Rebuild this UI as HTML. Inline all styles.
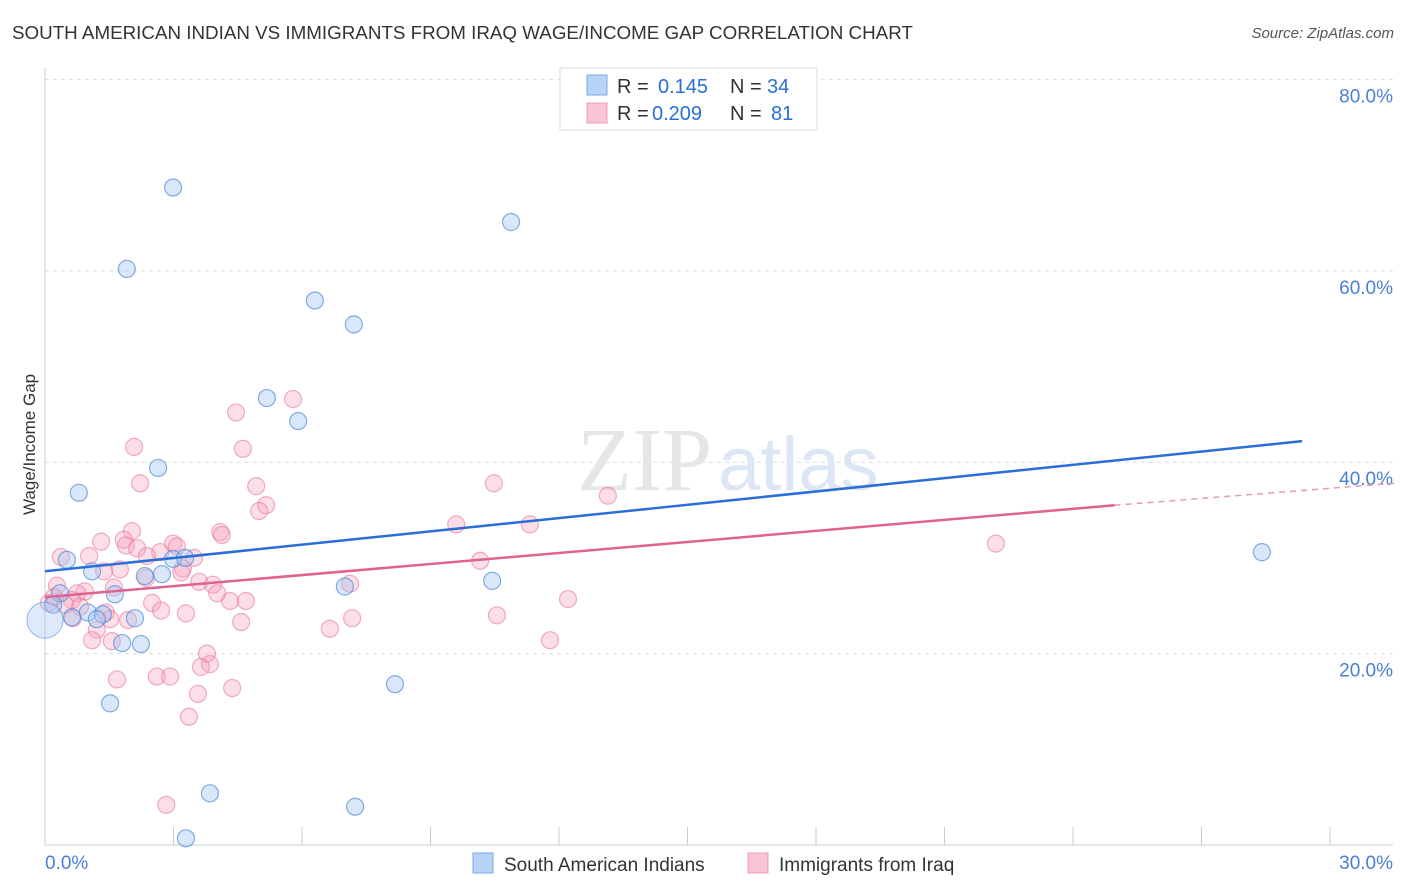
<!DOCTYPE html>
<html><head><meta charset="utf-8">
<style>
body{margin:0;background:#fff;font-family:"Liberation Sans",sans-serif;}
#wrap{position:relative;width:1406px;height:892px;overflow:hidden;}
.t{position:absolute;white-space:nowrap;}
</style></head>
<body>
<div id="wrap">
<div class="t" style="left:12px;top:22px;font-size:18.8px;color:#333;">SOUTH AMERICAN INDIAN VS IMMIGRANTS FROM IRAQ WAGE/INCOME GAP CORRELATION CHART</div>
<div class="t" style="right:12px;top:25px;font-size:15px;color:#555;font-style:italic;">Source: ZipAtlas.com</div>
<div class="t" style="left:-30px;top:445px;font-size:17px;color:#333;transform:rotate(-90deg);transform-origin:center;width:120px;text-align:center;">Wage/Income Gap</div>
<svg id="svg" width="1406" height="892" style="position:absolute;left:0;top:0"></svg>
</div>
<script>
const xTicks=[0,3,6,9,12,15,18,21,24,27,30];
const yTicks=[20,40,60,80];
const blueX=[2.99,1.91,10.88,6.30,7.21,5.18,5.91,2.64,0.79,0.51,1.10,2.99,3.27,2.33,2.73,1.63,0.35,0.19,1.00,1.35,1.21,2.10,0.63,1.80,2.24,7.00,10.44,8.17,1.52,3.85,7.24,3.29,28.41];
const blueY=[68.7,60.2,65.1,56.9,54.4,46.7,44.3,39.4,36.8,29.8,28.6,29.9,30.0,28.1,28.3,26.2,26.3,25.1,24.3,24.1,23.6,23.7,23.8,21.1,21.0,27.0,27.6,16.8,14.8,5.4,4.0,0.7,30.6];
const pinkX=[5.79,4.46,2.08,4.62,2.22,4.93,10.48,13.14,5.16,5.00,9.60,11.32,2.03,4.09,4.13,1.84,1.89,1.31,2.99,3.08,2.15,2.69,2.38,1.03,0.37,3.48,22.20,10.16,3.22,3.18,1.75,1.38,2.36,0.28,0.93,1.61,3.60,3.92,4.02,7.12,0.75,0.21,0.63,0.47,0.82,0.09,2.50,4.32,4.69,1.42,2.71,3.29,10.55,12.21,7.17,0.65,1.52,1.94,4.58,1.21,6.65,1.10,1.56,11.79,3.78,3.85,3.64,1.68,2.61,2.92,4.37,3.57,3.36,2.83];
const pinkY=[46.6,45.2,41.6,41.4,37.8,37.5,37.8,36.5,35.5,34.9,33.5,33.5,32.8,32.7,32.4,31.9,31.3,31.7,31.5,31.2,31.0,30.6,30.2,30.2,30.1,30.0,31.5,29.7,28.9,28.5,28.8,28.6,27.9,27.1,26.5,26.9,27.5,27.2,26.3,27.3,26.3,25.9,25.6,25.1,24.9,25.3,25.3,25.5,25.5,24.3,24.5,24.2,24.0,25.7,23.7,23.7,23.6,23.5,23.3,22.5,22.6,21.4,21.3,21.4,20.0,18.9,18.6,17.3,17.6,17.6,16.4,15.8,13.4,4.2];
const blueLine=[[0,28.6],[29.35,42.2]];
const pinkLine=[[0,25.9],[24.97,35.5]];
const pinkDash=[[24.97,35.5],[31.5,37.8]];
const X=v=>45+v/30*1285, Y=v=>845-v*9.57;
const svg=document.getElementById('svg');
const NS='http://www.w3.org/2000/svg';
function mk(tag,attrs,name,txt){const e=document.createElementNS(NS,tag);for(const k in attrs)e.setAttribute(k,attrs[k]);


if(txt!==undefined)e.textContent=txt;svg.appendChild(e);return e;}
yTicks.forEach(t=>{mk('line',{x1:45,x2:1393,y1:Y(t),y2:Y(t),stroke:'#ddd','stroke-dasharray':'4,4'},'gridline');
mk('text',{x:1393,y:Y(t)+23,'text-anchor':'end','font-size':19,fill:'#4a7fd4','font-family':'Liberation Sans'},'y-tick-label',t.toFixed(1)+'%');});
mk('text',{x:712,y:490,'font-size':90,fill:'#e6e6e6','font-family':'Liberation Serif','text-anchor':'end'},'watermark-zip','ZIP');
mk('text',{x:718,y:490,'font-size':76,fill:'#dce6f5','font-family':'Liberation Sans'},'watermark-atlas','atlas');
mk('line',{x1:45,x2:45,y1:68,y2:845,stroke:'#ccc'},'y-axis');
mk('line',{x1:45,x2:1393,y1:845,y2:845,stroke:'#ccc'},'x-axis');
xTicks.slice(1).forEach(t=>mk('line',{x1:X(t),x2:X(t),y1:827,y2:845,stroke:'#ccc'},'x-tick'));
mk('text',{x:45,y:869,'font-size':19,fill:'#4a7fd4','font-family':'Liberation Sans'},'x-tick-label',xTicks[0].toFixed(1)+'%');
mk('text',{x:1393,y:869,'text-anchor':'end','font-size':19,fill:'#4a7fd4','font-family':'Liberation Sans'},'x-tick-label',xTicks[10].toFixed(1)+'%');
pinkX.forEach((x,i)=>mk('circle',{cx:X(x),cy:Y(pinkY[i]),r:8.5,fill:'rgba(245,160,188,0.35)',stroke:'rgba(232,120,160,0.6)','stroke-width':1.2},'pink-point'));
blueX.forEach((x,i)=>mk('circle',{cx:X(x),cy:Y(blueY[i]),r:8.5,fill:'rgba(160,195,240,0.4)',stroke:'rgba(80,140,220,0.7)','stroke-width':1.2},'blue-point'));
mk('circle',{cx:X(0),cy:Y(23.5),r:18,fill:'rgba(160,195,240,0.35)',stroke:'rgba(80,140,220,0.6)'},'blue-point-large');
mk('line',{x1:X(blueLine[0][0]),y1:Y(blueLine[0][1]),x2:X(blueLine[1][0]),y2:Y(blueLine[1][1]),stroke:'#2a6fd6','stroke-width':2.5},'blue-trend-line');
mk('line',{x1:X(pinkLine[0][0]),y1:Y(pinkLine[0][1]),x2:X(pinkLine[1][0]),y2:Y(pinkLine[1][1]),stroke:'#e0628f','stroke-width':2.5},'pink-trend-line');
mk('line',{x1:X(pinkDash[0][0]),y1:Y(pinkDash[0][1]),x2:X(pinkDash[1][0]),y2:Y(pinkDash[1][1]),stroke:'#e89ab5','stroke-width':1.5,'stroke-dasharray':'6,5'},'pink-trend-extension');
mk('rect',{x:560,y:68,width:257,height:62,fill:'#fff',stroke:'#ddd'},'legend-box');
mk('rect',{x:587,y:75,width:20,height:20,fill:'#b8d3f5',stroke:'#7aaae6'},'legend-swatch-blue');
mk('rect',{x:587,y:103,width:20,height:20,fill:'#f9c4d4',stroke:'#ee9cb8'},'legend-swatch-pink');
const lt=(x,y,s,c,n)=>mk('text',{x:x,y:y,'font-size':20,fill:c,'font-family':'Liberation Sans'},n,s);
lt(617,93,'R = ','#333','legend-r-label');lt(658,93,'0.145','#2a6fd6','legend-r-blue');
lt(730,93,'N = ','#333','legend-n-label');lt(767,93,'34','#2a6fd6','legend-n-blue');
lt(617,120,'R = ','#333','legend-r-label');lt(652,120,'0.209','#2a6fd6','legend-r-pink');
lt(730,120,'N = ','#333','legend-n-label');lt(771,120,'81','#2a6fd6','legend-n-pink');
mk('rect',{x:473,y:853,width:20,height:20,fill:'#b8d3f5',stroke:'#7aaae6'},'bottom-legend-swatch-blue');
mk('text',{x:504,y:871,'font-size':19,fill:'#333','font-family':'Liberation Sans'},'bottom-legend-blue','South American Indians');
mk('rect',{x:748,y:853,width:20,height:20,fill:'#f9c4d4',stroke:'#ee9cb8'},'bottom-legend-swatch-pink');
mk('text',{x:779,y:871,'font-size':19,fill:'#333','font-family':'Liberation Sans'},'bottom-legend-pink','Immigrants from Iraq');
</script>
</body></html>
